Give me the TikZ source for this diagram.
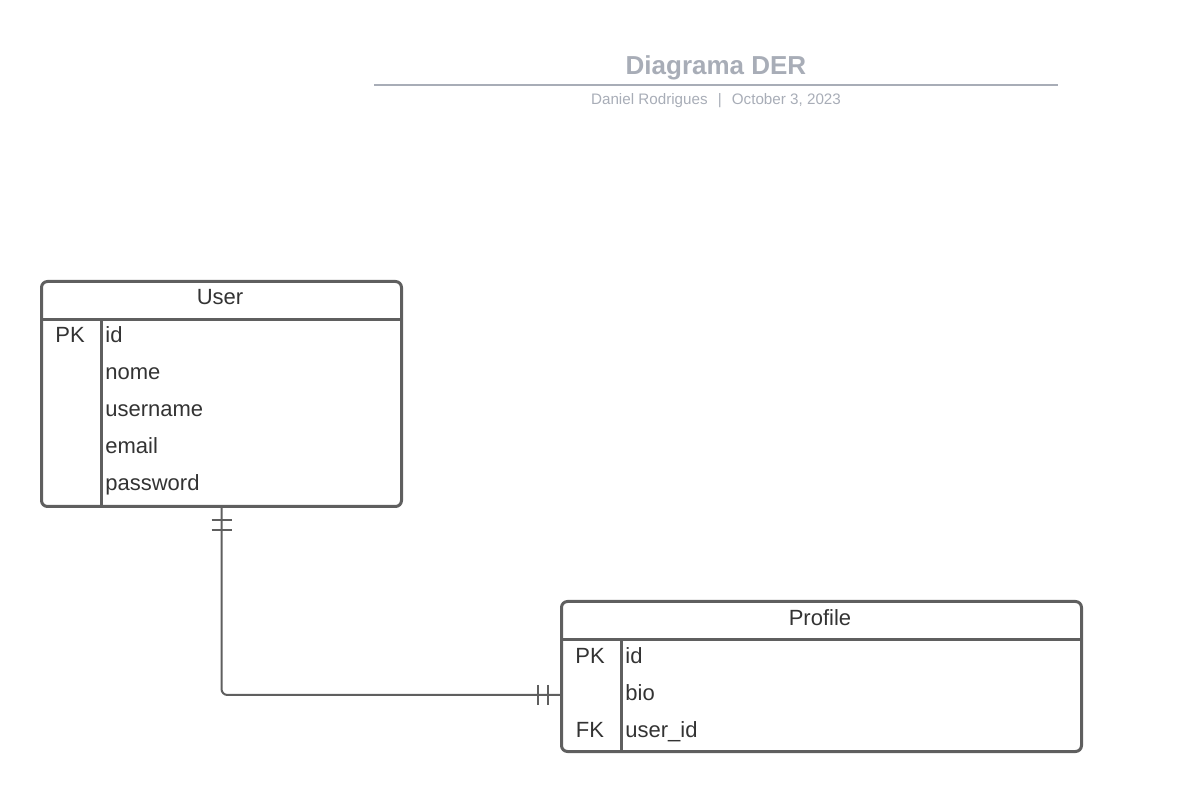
\documentclass[tikz,border=0pt]{standalone}
\usepackage{fontspec}
\setmainfont{Liberation Sans}
\usepackage{tikz}
\usetikzlibrary{positioning}

\definecolor{lineclr}{HTML}{5F5F5F}
\definecolor{textclr}{HTML}{333333}
\definecolor{titleclr}{HTML}{A8ADB7}

\tikzset{
  entity/.style={draw=lineclr, line width=1.5pt, rounded corners=3pt, anchor=north west, inner sep=0pt},
  field/.style={text=textclr, font=\fontsize{11}{13}\selectfont, inner sep=0pt, anchor=base west},
  keycol/.style={text=textclr, font=\fontsize{11}{13}\selectfont, inner sep=0pt, anchor=base},
  relation/.style={draw=lineclr, line width=1pt, rounded corners=3pt},
}

\begin{document}
\begin{tikzpicture}[x=0.5pt, y=-0.5pt]
\useasboundingbox (0,0) rectangle (1180,791);

% title block
\node[text=titleclr, font=\fontsize{13}{15}\bfseries, anchor=base] (title) at (716,75) {Diagrama DER};
\draw[titleclr, line width=1pt] (374,85) -- (1058,85);
\node[text=titleclr, font=\fontsize{7.6}{9}\selectfont, anchor=base] (subtitle) at (716,105) {Daniel Rodrigues\enspace\,|\,\enspace October 3, 2023};

% User
\node[entity, minimum width=180pt, minimum height=112.5pt] (user) at (40,280) {};
\draw[lineclr, line width=1.5pt] (40,320) -- (400,320);
\draw[lineclr, line width=1.5pt] (101,320) -- (101,505);
\node[keycol] (user-title) at (220,305) {User};
\node[keycol] (user-pk) at (70,343) {PK};
\foreach \name [count=\i] in {id,nome,username,email,password}
  \node[field] (user-\i) at (105,306+37*\i) {\name};

% Profile
\node[entity, minimum width=260pt, minimum height=75pt] (profile) at (560,600) {};
\draw[lineclr, line width=1.5pt] (560,640) -- (1080,640);
\draw[lineclr, line width=1.5pt] (621,640) -- (621,750);
\node[keycol] (profile-title) at (820,625) {Profile};
\node[keycol] (profile-pk) at (590,663) {PK};
\node[keycol] (profile-fk) at (590,737) {FK};
\foreach \name [count=\i] in {id,bio,user\_id}
  \node[field] (profile-\i) at (625,626+37*\i) {\name};

% one to one
\coordinate (pin) at (560,695);
\draw[relation] (user.south) |- (pin);
\draw[lineclr, line width=1pt] ([shift={(-10,12)}]user.south) -- +(20,0)
  ([shift={(-10,22)}]user.south) -- +(20,0);
\draw[lineclr, line width=1pt] ([shift={(-22,-10)}]pin) -- +(0,20)
  ([shift={(-12,-10)}]pin) -- +(0,20);
\end{tikzpicture}
\end{document}
